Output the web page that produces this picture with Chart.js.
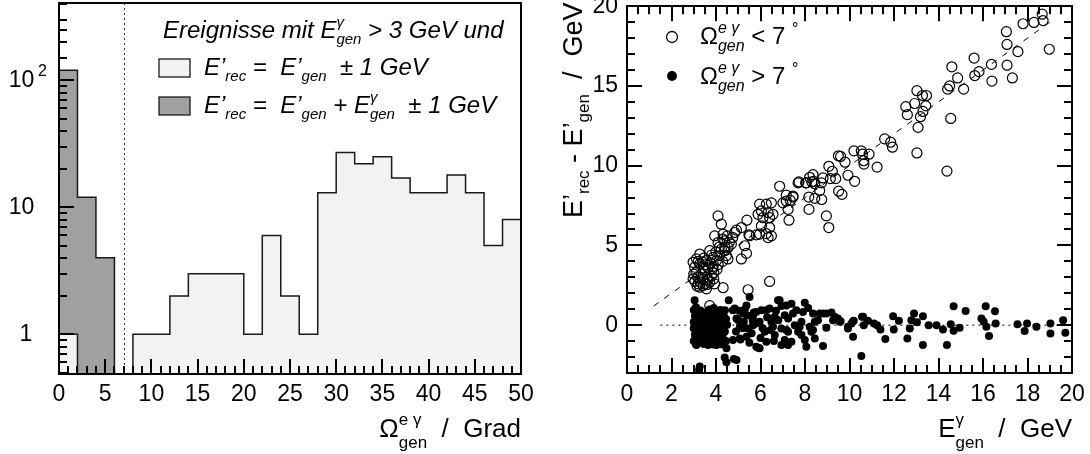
<!DOCTYPE html>
<html>
<head>
<meta charset="utf-8">
<script src="https://cdn.jsdelivr.net/npm/chart.js@4.4.1/dist/chart.umd.min.js"></script>
<style>
  body { margin: 0; background: #fff; }
  #wrap { position: relative; width: 1090px; height: 454px; }
  canvas { position: absolute; top: 0; }
</style>
</head>
<body>
<div id="wrap">
  <canvas id="left" width="545" height="454" style="left:0"></canvas>
  <canvas id="right" width="545" height="454" style="left:545px"></canvas>
</div>
<script>
// ---- left panel: histograms of the opening angle (2 degree bins) ----
var binLeftEdges = [0, 2, 4, 6, 8, 10, 12, 14, 16, 18, 20, 22, 24, 26, 28, 30, 32, 34, 36, 38, 40, 42, 44, 46, 48];
var countsSeparate = [1, 0, 0, 0, 1, 1, 2, 3, 3, 3, 1, 6, 2, 1, 13, 27, 22, 25, 17, 13, 13, 18, 13, 5, 8];
var countsMerged = [120, 12, 4, 0, 0, 0, 0, 0, 0, 0, 0, 0, 0, 0, 0, 0, 0, 0, 0, 0, 0, 0, 0, 0, 0];
var angleCut = 7;
var angleTicks = [0, 5, 10, 15, 20, 25, 30, 35, 40, 45, 50];
var countTicks = [1, 10, 100];

// ---- right panel: E'rec - E'gen against E_gen(gamma) ----
var openCircles = [
  [18.66, 19.5], [18.7, 19.1], [18.29, 18.98], [17.8, 18.9], [18.98, 17.3], [17.05, 18.4], [17.08, 17.6],
  [17.57, 17.15], [17.08, 16.3], [17.32, 15.5], [16.38, 16.35], [16.4, 15.3], [15.6, 16.75], [15.82, 15.9],
  [15.63, 15.65], [14.6, 16.2], [14.86, 15.5], [15.13, 14.8], [14.5, 15.0], [14.41, 14.8], [14.55, 12.96],
  [14.38, 9.66], [13.03, 14.7], [13.28, 14.4], [13.46, 14.4], [12.93, 13.9], [12.53, 13.7], [12.6, 13.2],
  [13.43, 13.75], [13.3, 13.4], [13.19, 13.07], [13.08, 12.4], [13.03, 10.8],
  [11.58, 11.68], [11.85, 11.47], [11.93, 11.16], [11.24, 9.91], [10.2, 10.93], [10.53, 10.93], [10.58, 10.72],
  [10.88, 10.72], [10.64, 10.31], [10.65, 10.1], [9.5, 10.62], [9.6, 10.58], [9.8, 10.22], [9.07, 9.96],
  [9.23, 9.65], [9.38, 9.19], [9.14, 9.19], [9.93, 9.4], [10.23, 9.02], [8.36, 9.44], [8.21, 9.27],
  [7.73, 8.98], [8.03, 8.92], [8.31, 8.98], [8.74, 8.92], [8.66, 8.44], [9.51, 8.4], [9.66, 8.2],
  [8.17, 8.03], [8.44, 7.95], [8.75, 7.88], [6.86, 8.71], [7.16, 8.15], [7.46, 8.03], [7.34, 7.82],
  [7.01, 7.67], [8.18, 7.26], [8.96, 6.85], [9.07, 6.12], [7.28, 6.58], [8.81, 9.23], [8.39, 9.02],
  [5.96, 7.59], [6.26, 7.59], [6.49, 7.67], [6.04, 7.16], [6.34, 7.05], [6.56, 6.95], [6.11, 6.74],
  [5.89, 6.95], [6.41, 6.74], [6.04, 6.22], [6.41, 6.12], [6.49, 5.6], [5.51, 5.6], [7.24, 7.26],
  [7.16, 7.78], [7.46, 8.09], [7.69, 8.92], [8.06, 8.92], [8.44, 8.86],
  [4.09, 6.85], [4.24, 6.33], [5.39, 6.58], [5.14, 6.12], [4.92, 5.96], [4.84, 5.81], [5.48, 5.66],
  [5.81, 5.66], [5.96, 5.71], [6.26, 5.74], [6.34, 5.49], [3.94, 5.6], [4.32, 5.71], [4.39, 5.29],
  [4.09, 5.18], [4.69, 5.08], [4.54, 4.87], [4.24, 4.77], [4.39, 4.67], [5.29, 4.98], [5.37, 4.5],
  [5.14, 4.15], [3.72, 4.67], [3.87, 4.25], [3.57, 4.05], [4.02, 4.05], [4.17, 4.36], [4.47, 4.36],
  [4.54, 4.15], [3.27, 4.46], [3.12, 4.15], [2.97, 3.94], [3.27, 3.84], [3.04, 3.63], [3.42, 3.59],
  [3.64, 3.59], [3.87, 3.67], [2.97, 2.9], [3.19, 3.0], [3.42, 2.9], [3.64, 2.84], [3.19, 2.59],
  [3.42, 2.49], [3.72, 2.69], [3.27, 2.38], [3.57, 2.28], [3.94, 2.59], [4.32, 2.35], [5.44, 2.22],
  [6.41, 2.74], [3.72, 1.22],
  [3.1, 3.3], [3.35, 3.2], [3.5, 3.4], [3.8, 3.1], [3.6, 3.0], [3.05, 2.75], [3.3, 2.7], [3.5, 2.6],
  [3.9, 3.3], [4.1, 3.8], [4.3, 4.0], [4.0, 4.6], [4.15, 4.9], [3.8, 4.4], [3.45, 4.2], [3.2, 4.0],
  [3.55, 3.8], [3.75, 3.9], [4.4, 4.9], [4.6, 5.2], [4.75, 5.5], [4.5, 5.6], [4.3, 5.4], [3.4, 3.95],
  [3.0, 3.2], [3.9, 2.9], [3.6, 2.55], [3.15, 2.45], [4.05, 3.5], [3.85, 3.55]
];
var filledDots = [
  [9.56, 0.21], [9.93, -0.21], [10.09, 0.1], [10.19, 0.27], [10.16, -0.73], [10.53, -1.93], [10.61, 0.52],
  [10.64, 0], [10.83, 0.27], [11.1, 0.1], [11.24, 0], [11.39, -0.27], [11.61, -0.87], [11.96, 0.56],
  [11.99, -0.27], [12.22, 0.27], [12.6, -0.83], [12.71, -0.21], [12.78, 0.31], [12.9, 0.73], [13.03, 0.19],
  [13.3, 0.56], [13.3, -1.24], [13.56, 0], [13.91, 0], [14.2, -0.27], [14.38, -1.24], [14.55, 0.06],
  [14.68, 1.18], [14.68, -0.35], [14.95, -0.17], [15.22, 0.89], [15.93, 0.42], [16.03, 0.21], [16.15, -0.1],
  [16.12, 1.18], [16.27, -0.68], [16.54, 0.87], [16.57, 0.1], [17.55, 0.06], [17.87, -0.37], [17.98, 0.1],
  [18.4, -0.1], [19.03, 0.1], [19.03, -0.52], [19.6, 0.31], [19.7, -0.48],
  [5.89, -1.41], [6.26, -1.04], [6.04, 0.93], [6.41, 1.04], [6.79, 1.56], [6.94, 1.2], [7.39, 1.35],
  [7.61, 0.93], [7.99, 1.41], [8.14, 1.08], [8.66, 0.73], [8.81, 0.73], [9.19, 0.79], [9.33, 0.52],
  [9.6, 0.25], [10.16, 0.25], [10.56, 0.52], [8.81, -1.31], [8.06, -1.35], [7.99, -0.93], [8.44, -0.83],
  [7.24, -1.24], [7.09, -0.93], [7.69, -0.42], [7.84, 0.21], [6.94, -0.21], [6.64, -0.62], [6.19, -0.42],
  [5.96, 0.21], [6.49, 0.21], [7.24, 0.42], [8.44, 0.21], [8.96, -0.17], [6.64, 0.52], [7.09, 0.62],
  [7.54, 0], [8.21, -0.1], [8.58, 0.31], [9.48, 0.42], [9.93, -0.1], [7.24, -0.42], [7.84, -0.62],
  [8.29, -0.42], [4.76, 0.93], [5.21, 0.73], [5.81, 0.83], [6.26, 0.93], [6.86, 1.56], [7.16, 1.24],
  [7.46, 0.73], [7.91, 0.83], [8.36, 0.73], [8.96, 0.73], [9.26, 0.31], [4.76, -0.93], [5.37, -0.73],
  [5.96, -1.45], [6.94, -1.24], [7.39, -1.04], [5.07, -0.1], [5.66, 0], [6.56, -0.1], [7.16, -0.31],
  [7.76, -0.1], [8.36, -0.31],
  [5.0, 0.3], [5.2, -0.2], [5.4, 0.6], [5.6, -0.5], [5.8, 0.1], [5.1, -0.9], [5.3, 1.0], [5.7, 0.8],
  [6.1, -0.2], [6.3, 0.5], [6.6, -1.0], [6.8, 0.3], [5.5, -1.1], [4.9, -0.4], [5.05, 0.9], [6.0, -0.8],
  [6.45, -0.3], [6.7, 0.9], [5.25, 0.2], [5.65, 0.3],
  [3.04, 1.56], [4.57, 1.56], [5.51, 1.76], [4.39, -2.03], [4.47, -2.32], [4.8, -2.12], [4.92, -2.18],
  [3.27, -2.59], [3.24, -2.8], [4.47, -1.45], [4.02, -1.24], [3.64, -1.24], [3.12, -1.24], [5.07, -0.83],
  [5.81, -1.35], [5.44, -0.21], [5.21, 0.83], [4.92, 0.42], [5.66, 0.52], [5.37, 1.24], [4.84, 1.04],
  [3.1, 1.12], [3.9, 1.08], [4.2, 0.95],
  [3.0, 0.95], [3.3, 0.92], [3.7, 0.98], [4.05, 0.9], [4.4, 0.94],
  [3.15, 0.76], [3.45, 0.79], [3.85, 0.74], [4.25, 0.77],
  [3.05, 0.58], [3.35, 0.55], [3.6, 0.61], [3.95, 0.56], [4.35, 0.6],
  [3.2, 0.4], [3.5, 0.37], [3.8, 0.42], [4.1, 0.36], [4.45, 0.39],
  [3.0, 0.2], [3.3, 0.22], [3.65, 0.18], [4.0, 0.21], [4.3, 0.17],
  [3.1, 0.01], [3.4, -0.02], [3.75, 0.03], [4.15, -0.01], [4.5, 0.02],
  [3.0, -0.2], [3.25, -0.18], [3.55, -0.22], [3.9, -0.19], [4.25, -0.21],
  [3.15, -0.4], [3.45, -0.42], [3.8, -0.38], [4.1, -0.41], [4.4, -0.39],
  [3.05, -0.6], [3.35, -0.58], [3.65, -0.62], [4.0, -0.59], [4.3, -0.61],
  [3.2, -0.8], [3.5, -0.82], [3.85, -0.79], [4.2, -0.81],
  [3.0, -1.0], [3.3, -1.02], [3.7, -0.98], [4.05, -1.01], [4.45, -0.99],
  [3.1, -1.2], [3.45, -1.18], [3.85, -1.22], [4.25, -1.19]
];
var diagonalLine = [[1.2, 1.2], [19, 19]];
var zeroLine = [[1.5, 0], [20, 0]];
var energyTicks = [0, 2, 4, 6, 8, 10, 12, 14, 16, 18, 20];
var diffTicks = [0, 5, 10, 15, 20];

var FONT = '"Liberation Sans", Arial, Helvetica, sans-serif';
var Y_MIN = 0.487, Y_MAX = 406;
var LIGHT = '#f2f2f2', DARK = '#a0a0a0', LINE = '#1a1a1a';

function P(t, s, dy, it, stack) {
  return { t: t, s: s, dy: dy || 0, it: !!it, k: !!stack };
}
function setFont(ctx, p) {
  ctx.font = (p.it ? 'italic ' : '') + p.s + 'px ' + FONT;
}
// text with sub/superscripts, pieces marked k are stacked over the next one
function rich(ctx, x, y, parts, align) {
  var items = [], pos = 0, pend = null;
  parts.forEach(function (p) {
    setFont(ctx, p);
    var w = ctx.measureText(p.t).width;
    items.push({ p: p, x: pos });
    if (p.k) { pend = w; } else { pos += pend !== null ? Math.max(pend, w) : w; pend = null; }
  });
  var x0 = align === 'right' ? x - pos : x;
  ctx.textAlign = 'left';
  ctx.textBaseline = 'alphabetic';
  ctx.fillStyle = '#000';
  items.forEach(function (it) {
    setFont(ctx, it.p);
    ctx.fillText(it.p.t, x0 + it.x, y + it.p.dy);
  });
}

function stepData(counts) {
  var pts = binLeftEdges.map(function (x, i) {
    return { x: x, y: counts[i] > 0 ? counts[i] : Y_MIN };
  });
  pts.push({ x: 50, y: pts[pts.length - 1].y });
  return pts;
}
function toXY(list) {
  return list.map(function (p) { return { x: p[0], y: p[1] }; });
}
// tick marks: 2px wide filled rectangles on the pixel grid
function hTick(ctx, x, y, len) {
  var yy = Math.round(y);
  ctx.fillRect(len > 0 ? x : x + len, yy - 1, Math.abs(len), 2);
}
function vTick(ctx, x, y, len) {
  var xx = Math.round(x);
  ctx.fillRect(xx - 1, len > 0 ? y : y + len, 2, Math.abs(len));
}
function frame(ctx, a) {
  var l = Math.round(a.left), t = Math.round(a.top), r = Math.round(a.right), b = Math.round(a.bottom);
  ctx.fillRect(l - 1, t - 1, r - l + 2, 2);
  ctx.fillRect(l - 1, b - 1, r - l + 2, 2);
  ctx.fillRect(l - 1, t - 1, 2, b - t + 2);
  ctx.fillRect(r - 1, t - 1, 2, b - t + 2);
}

var leftDeco = {
  id: 'leftDeco',
  afterDatasetsDraw: function (chart) {
    var ctx = chart.ctx, a = chart.chartArea, xs = chart.scales.x, ys = chart.scales.y;
    ctx.save();
    // cut line
    ctx.fillStyle = '#333';
    var cx = Math.round(xs.getPixelForValue(angleCut));
    for (var yd = a.top; yd < a.bottom; yd += 5) ctx.fillRect(cx, yd, 1, 2);
    // frame and ticks
    ctx.fillStyle = '#000';
    frame(ctx, a);
    for (var v = 0; v <= 50; v++) {
      vTick(ctx, xs.getPixelForValue(v), a.bottom, -(v % 5 === 0 ? 15 : 8));
    }
    [0.1, 1, 10, 100].forEach(function (d) {
      for (var m = 1; m <= 9; m++) {
        var val = m * d;
        if (val < Y_MIN || val > Y_MAX) continue;
        hTick(ctx, a.left, ys.getPixelForValue(val), m === 1 ? 15 : 8);
      }
    });
    [150, 250].forEach(function (val) {
      hTick(ctx, a.left, ys.getPixelForValue(val), 8);
    });
    // tick labels
    ctx.font = '23px ' + FONT;
    ctx.textAlign = 'center';
    ctx.textBaseline = 'middle';
    angleTicks.forEach(function (v) {
      ctx.fillText(String(v), xs.getPixelForValue(v), 395);
    });
    countTicks.forEach(function (v) {
      var py = ys.getPixelForValue(v);
      ctx.font = '23px ' + FONT;
      ctx.textAlign = 'center';
      if (v === 1) ctx.fillText('1', 26, py);
      else ctx.fillText('10', 21.5, py);
      if (v === 100) {
        ctx.font = '16px ' + FONT;
        ctx.textAlign = 'left';
        ctx.fillText('2', 38, py - 9);
      }
    });
    // legend
    rich(ctx, 163, 38, [P('Ereignisse mit E', 24, 0, 1), P('\u03b3', 15, -11, 1, 1), P('gen', 15, 6, 1),
      P(' > 3 GeV und', 24, 0, 1)]);
    ctx.lineWidth = 1.3;
    ctx.strokeStyle = LINE;
    ctx.fillStyle = LIGHT;
    ctx.fillRect(159, 59, 31, 18);
    ctx.strokeRect(159, 59, 31, 18);
    ctx.fillStyle = DARK;
    ctx.fillRect(159, 97, 31, 18);
    ctx.strokeRect(159, 97, 31, 18);
    rich(ctx, 204, 75, [P('E\u2019', 24, 0, 1), P('rec', 15, 6, 1), P(' =  E\u2019', 24, 0, 1), P('gen', 15, 6, 1),
      P('  \u00b1 1 GeV', 24, 0, 1)]);
    rich(ctx, 204, 113, [P('E\u2019', 24, 0, 1), P('rec', 15, 6, 1), P(' =  E\u2019', 24, 0, 1), P('gen', 15, 6, 1),
      P(' + E', 24, 0, 1), P('\u03b3', 15, -11, 1, 1), P('gen', 15, 6, 1), P('  \u00b1 1 GeV', 24, 0, 1)]);
    // axis title
    rich(ctx, a.right, 437, [P('\u03a9', 26), P('e \u03b3', 17, -12, 0, 1), P('gen', 17, 11),
      P('  /  Grad', 26)], 'right');
    ctx.restore();
  }
};

var rightDeco = {
  id: 'rightDeco',
  afterDatasetsDraw: function (chart) {
    var ctx = chart.ctx, a = chart.chartArea, xs = chart.scales.x, ys = chart.scales.y;
    ctx.save();
    ctx.fillStyle = '#000';
    frame(ctx, a);
    for (var i = 0; i <= 40; i++) {
      var v = i / 2, px = xs.getPixelForValue(v), len = v % 2 === 0 ? 15 : 8;
      vTick(ctx, px, a.bottom, -len);
      vTick(ctx, px, a.top, len);
    }
    for (var yv = -3; yv <= 20; yv++) {
      var py = ys.getPixelForValue(yv), l2 = yv % 5 === 0 ? 15 : 8;
      hTick(ctx, a.left, py, l2);
      hTick(ctx, a.right, py, -l2);
    }
    ctx.font = '23px ' + FONT;
    ctx.textAlign = 'center';
    ctx.textBaseline = 'middle';
    energyTicks.forEach(function (v) {
      ctx.fillText(String(v), xs.getPixelForValue(v), 395);
    });
    ctx.textAlign = 'right';
    diffTicks.forEach(function (v) {
      ctx.fillText(String(v), a.left - 9, ys.getPixelForValue(v));
    });
    // legend
    ctx.strokeStyle = '#000';
    ctx.lineWidth = 1.3;
    ctx.beginPath();
    ctx.arc(127, 37, 5.5, 0, Math.PI * 2);
    ctx.stroke();
    ctx.beginPath();
    ctx.arc(127, 76, 5, 0, Math.PI * 2);
    ctx.fill();
    rich(ctx, 155, 44, [P('\u03a9', 24), P('e \u03b3', 16, -11, 1, 1), P('gen', 16, 7, 1), P(' < 7 ', 24),
      P('\u00b0', 16, -10)]);
    rich(ctx, 155, 84, [P('\u03a9', 24), P('e \u03b3', 16, -11, 1, 1), P('gen', 16, 7, 1), P(' > 7 ', 24),
      P('\u00b0', 16, -10)]);
    // axis titles
    rich(ctx, a.right, 437, [P('E', 26), P('\u03b3', 17, -12, 0, 1), P('gen', 17, 11), P('  /  GeV', 26)], 'right');
    ctx.save();
    ctx.translate(37, 218);
    ctx.rotate(-Math.PI / 2);
    rich(ctx, 0, 0, [P('E\u2019', 27), P('rec', 17, 7), P(' - E\u2019', 27), P('gen', 17, 7), P('  /  GeV', 27)]);
    ctx.restore();
    ctx.restore();
  }
};

new Chart('left', {
  type: 'line',
  data: {
    datasets: [
      {
        data: stepData(countsSeparate),
        stepped: 'before',
        fill: 'start',
        backgroundColor: LIGHT,
        borderColor: LINE,
        borderWidth: 1.5,
        pointRadius: 0,
        order: 1
      },
      {
        data: stepData(countsMerged),
        stepped: 'before',
        fill: 'start',
        backgroundColor: DARK,
        borderColor: LINE,
        borderWidth: 1.5,
        pointRadius: 0,
        order: 2
      }
    ]
  },
  options: {
    responsive: false,
    devicePixelRatio: 1,
    animation: false,
    layout: { padding: { left: 59, right: 24, top: 3, bottom: 80 } },
    plugins: { legend: { display: false }, tooltip: { enabled: false } },
    scales: {
      x: { type: 'linear', min: 0, max: 50, display: false },
      y: { type: 'logarithmic', min: Y_MIN, max: Y_MAX, display: false }
    }
  },
  plugins: [leftDeco]
});

new Chart('right', {
  type: 'scatter',
  data: {
    datasets: [
      {
        data: toXY(openCircles),
        pointRadius: 5,
        pointBorderWidth: 1.2,
        borderColor: '#000',
        backgroundColor: 'rgba(0,0,0,0)',
        order: 1
      },
      {
        data: toXY(filledDots),
        pointRadius: 4,
        pointBorderWidth: 0,
        borderColor: '#000',
        backgroundColor: '#000',
        order: 2
      },
      {
        type: 'line',
        data: toXY(diagonalLine),
        borderColor: '#000',
        borderWidth: 1,
        borderDash: [6, 7],
        pointRadius: 0,
        order: 3
      },
      {
        type: 'line',
        data: toXY(zeroLine),
        borderColor: '#000',
        borderWidth: 1,
        borderDash: [2, 4],
        pointRadius: 0,
        order: 4
      }
    ]
  },
  options: {
    responsive: false,
    devicePixelRatio: 1,
    animation: false,
    layout: { padding: { left: 82, right: 18, top: 3, bottom: 81 } },
    plugins: { legend: { display: false }, tooltip: { enabled: false } },
    scales: {
      x: { type: 'linear', min: 0, max: 20, display: false },
      y: { type: 'linear', min: -3, max: 20, display: false }
    }
  },
  plugins: [rightDeco]
});
</script>
</body>
</html>
